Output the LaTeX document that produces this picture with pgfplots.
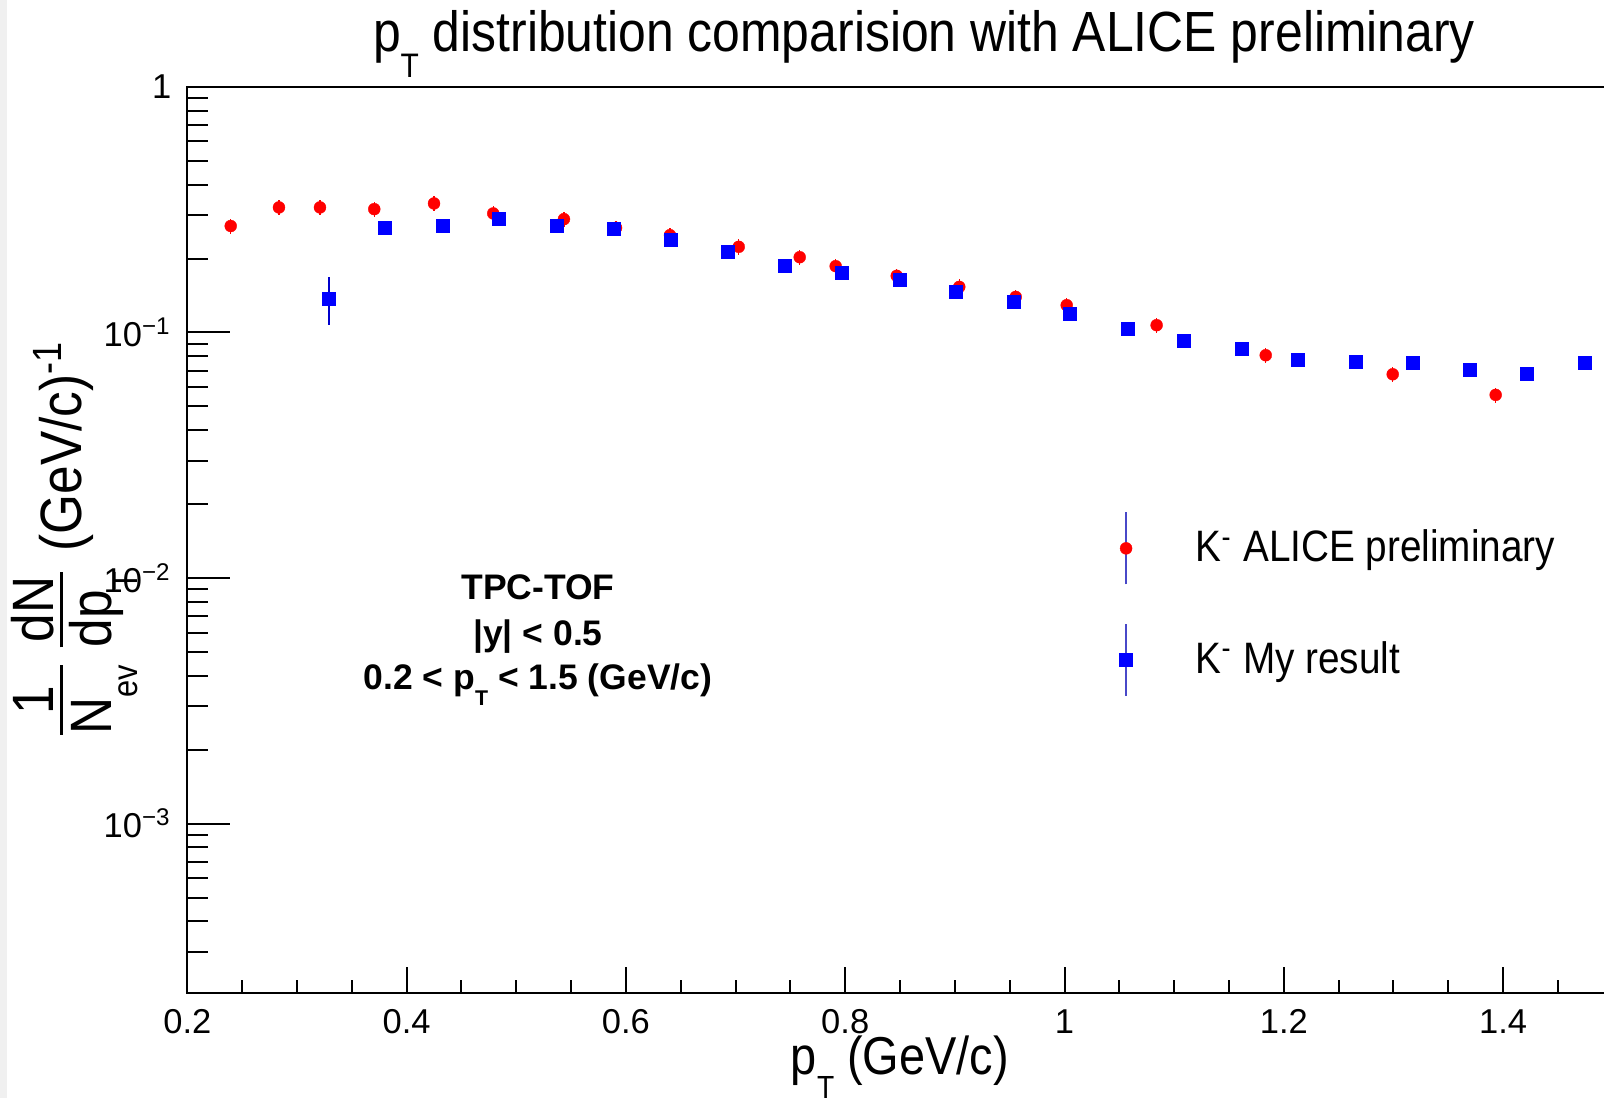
\documentclass[border=0pt]{standalone}
\usepackage{pgfplots}
\pgfplotsset{compat=1.18}
\usepackage{pgfplotstable}
\usepackage{graphicx}
\usepackage{fontspec}
\setmainfont{Liberation Sans}
\newfontfamily\narrowfont{Liberation Sans}[FakeStretch=0.88]
\definecolor{legline}{RGB}{72,72,200}
\definecolor{padgrey}{RGB}{240,240,240}
\newcommand\rsub[1]{\raisebox{-0.45em}{\scalebox{0.6}{#1}}}
\newcommand\rfrac[2]{\raisebox{8.5pt}{\setlength\arrayrulewidth{0.9pt}%
  \renewcommand\arraystretch{0}%
  \begin{tabular}[t]{@{}c@{}}\rule[-0.11em]{0pt}{0.11em}#1\\\hline\rule{0pt}{0.83em}#2\end{tabular}}}

\pgfplotsset{
  errleg/.style={legend image code/.code={%
    \draw[legline,line width=0.45pt] (0pt,-10.8pt) -- (0pt,10.8pt);
    \draw[##1] plot coordinates {(0pt,0pt)};}},
}

\pgfplotstableread{
x y ey
0.2396 0.2714 0.019
0.2836 0.3231 0.023
0.3210 0.3231 0.023
0.3705 0.3180 0.022
0.4250 0.3354 0.023
0.4790 0.3054 0.021
0.5435 0.2895 0.020
0.5910 0.2668 0.019
0.6402 0.2491 0.017
0.7029 0.2233 0.016
0.7585 0.2026 0.014
0.7913 0.1863 0.013
0.8470 0.1701 0.012
0.9040 0.1534 0.011
0.9555 0.1396 0.010
1.0020 0.1292 0.009
1.0840 0.1071 0.0075
1.1835 0.0808 0.0057
1.2993 0.0676 0.0047
1.3932 0.0557 0.0039
}\alicedata

\pgfplotstableread{
x y ey
0.3290 0.1376 0.030
0.3800 0.2678 0
0.4326 0.2729 0
0.4843 0.2903 0
0.5369 0.2729 0
0.5885 0.2644 0
0.6409 0.2393 0
0.6925 0.2138 0
0.7451 0.1868 0
0.7965 0.1756 0
0.8494 0.1644 0
0.9008 0.1469 0
0.9537 0.1329 0
1.0050 0.1191 0
1.0576 0.1041 0
1.1090 0.0930 0
1.1616 0.0857 0
1.2129 0.0776 0
1.2658 0.0764 0
1.3172 0.0752 0
1.3698 0.0704 0
1.4211 0.0681 0
1.4740 0.0755 0
}\mydata

\begin{document}
\begin{tikzpicture}
\fill[padgrey] (-56.19pt,-31.62pt) rectangle (-54.0pt,297.78pt);
\begin{axis}[
  scale only axis, width=427.64pt, height=271.71pt,
  at={(0pt,0pt)}, anchor=south west,
  xmin=0.2, xmax=1.5, ymode=log, ymin=2.05e-4, ymax=1,
  axis line style={line width=0.6pt},
  xtick={0.2,0.4,0.6,0.8,1,1.2,1.4},
  xticklabels={0.2,0.4,0.6,0.8,1,1.2,1.4},
  minor xtick={0.25,0.3,0.35,0.45,0.5,0.55,0.65,0.7,0.75,0.85,0.9,0.95,1.05,1.1,1.15,1.25,1.3,1.35,1.45},
  ytick={1e-3,1e-2,1e-1,1},
  yticklabels={10\textsuperscript{−3},10\textsuperscript{−2},10\textsuperscript{−1},1},
  minor ytick={3e-4,4e-4,5e-4,6e-4,7e-4,8e-4,9e-4,2e-3,3e-3,4e-3,5e-3,6e-3,7e-3,8e-3,9e-3,0.02,0.03,0.04,0.05,0.06,0.07,0.08,0.09,0.2,0.3,0.4,0.5,0.6,0.7,0.8,0.9},
  xtick pos=left, ytick pos=left,
  tick align=inside,
  tick style={line width=0.6pt, black},
  major x tick style={/pgfplots/major tick length=7.8pt},
  minor x tick style={/pgfplots/minor tick length=3.9pt},
  major y tick style={/pgfplots/major tick length=12.9pt},
  minor y tick style={/pgfplots/minor tick length=6.3pt},
  xticklabel style={font=\fontsize{10.35}{12}\selectfont, inner sep=0pt, yshift=-4.9pt},
  yticklabel style={font=\fontsize{10.35}{12}\selectfont, inner sep=0pt, xshift=-4.6pt},
  legend style={draw=none, fill=none, inner sep=0pt, outer sep=0pt,
    at={(0.654,0.5311)}, anchor=north west, row sep=11.4pt, column sep=19pt,
    font=\narrowfont\fontsize{13.2}{15}\selectfont, nodes={inner sep=0pt}},
  legend cell align=left,
]
\addplot[only marks, color=red, mark=*, mark size=1.8pt,
  mark options={solid, fill=red, draw=red, line width=0.1pt}, errleg,
  error bars/.cd, y dir=both, y explicit, error mark=none,
  error bar style={red, line width=0.4pt}]
  table[x=x, y=y, y error=ey] {\alicedata};
\addlegendentry{K\textsuperscript{-} ALICE preliminary}
\addplot[only marks, color=blue, mark=square*, mark size=1.95pt,
  mark options={solid, fill=blue, draw=blue, line width=0.1pt}, errleg,
  error bars/.cd, y dir=both, y explicit, error mark=none,
  error bar style={blue!80!black, line width=0.6pt}]
  table[x=x, y=y, y error=ey] {\mydata};
\addlegendentry{K\textsuperscript{-} My result}
\end{axis}
\node[anchor=base, font=\narrowfont\fontsize{17}{20}\selectfont] at (221.0pt,282.3pt)
  {p\rsub{T} distribution comparision with ALICE preliminary};
\node[anchor=base, font=\narrowfont\fontsize{16}{18}\selectfont] at (213.8pt,-24.6pt)
  {p\rsub{T} (GeV/c)};
\node[rotate=90, anchor=base, font=\narrowfont\fontsize{17.5}{21}\selectfont] at (-31.6pt,136.5pt)
  {\rfrac{1}{N\rsub{ev}}\hspace{0.3em}\rfrac{dN}{dp\rsub{T}}\hspace{0.35em}(GeV/c)\textsuperscript{-1}};
\node[anchor=base, font=\bfseries\fontsize{10.65}{13}\selectfont] at (105.2pt,117.8pt) {TPC-TOF};
\node[anchor=base, font=\bfseries\fontsize{10.65}{13}\selectfont] at (105.2pt,104.0pt) {|y| < 0.5};
\node[anchor=base, font=\bfseries\fontsize{10.65}{13}\selectfont] at (105.2pt,90.8pt) {0.2 < p\rsub{T} < 1.5 (GeV/c)};
\pgfresetboundingbox
\path[use as bounding box] (-56.19pt,-31.62pt) rectangle (425.01pt,297.78pt);
\end{tikzpicture}
\end{document}
